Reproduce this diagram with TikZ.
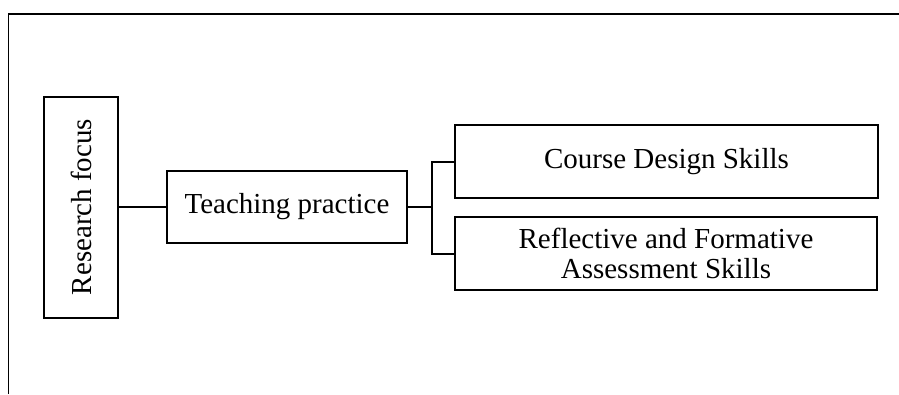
\documentclass[tikz,border=0pt]{standalone}
\usepackage{fontspec}
\setmainfont{Liberation Serif}
\begin{document}
\begin{tikzpicture}[x=1pt,y=-1pt,
  frameline/.style={line width=1.8pt},
  box/.style={draw,line width=2pt,rectangle,inner sep=0pt,align=center,
    font=\fontsize{29}{31}\selectfont},
  link/.style={line width=2pt}]
\useasboundingbox (0,0) rectangle (899,394);
% open frame: top and left edges
\draw[frameline] (8.5,394) -- (8.5,14) -- (899,14);
% boxes
\node[box,minimum width=74pt,minimum height=221pt] (rf) at (81,207)
  {\rotatebox{90}{Research focus}};
\node[box,minimum width=240pt,minimum height=72pt] (tp) at (287,207)
  {Teaching practice};
\node[box,minimum width=423pt,minimum height=73pt] (cd) at (666.5,161.5)
  {Course Design Skills};
\node[box,minimum width=422pt,minimum height=73pt] (rs) at (666,253.5)
  {Reflective and Formative\\[-1pt]Assessment Skills};
% connectors
\coordinate (j) at (432,207);
\draw[link] (rf.east) -- (tp.west);
\draw[link] (tp.east) -- (j);
\draw[link] (cd.west) -| (j) |- (rs.west);
\end{tikzpicture}
\end{document}
